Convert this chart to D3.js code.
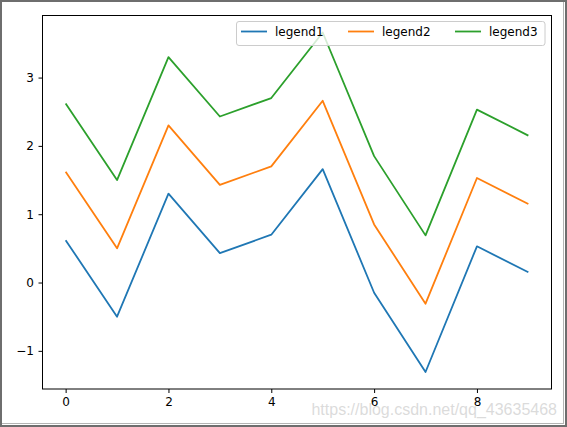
<!DOCTYPE html>
<html>
<head>
<meta charset="utf-8">
<script src="https://cdn.jsdelivr.net/npm/d3@7/dist/d3.min.js"></script>
<style>
  html, body { margin: 0; padding: 0; background: #fff; }
  svg { display: block; }
</style>
</head>
<body>
<script>
// ---- data ----
const xValues = [0, 1, 2, 3, 4, 5, 6, 7, 8, 9];
const series1 = [0.62, -0.50, 1.30, 0.43, 0.70, 1.66, -0.15, -1.31, 0.53, 0.15];
const series2 = [1.62, 0.50, 2.30, 1.43, 1.70, 2.66, 0.85, -0.31, 1.53, 1.15];
const series3 = [2.62, 1.50, 3.30, 2.43, 2.70, 3.66, 1.85, 0.69, 2.53, 2.15];
const seriesNames = ["legend1", "legend2", "legend3"];
const xTicks = [0, 2, 4, 6, 8];
const yTicks = [-1, 0, 1, 2, 3];
const yTickLabels = ["\u22121", "0", "1", "2", "3"];
const watermark = "https://blog.csdn.net/qq_43635468";

const W = 567, H = 427;
const colors = ["#1f77b4", "#ff7f0e", "#2ca02c"];
const allSeries = [series1, series2, series3];

const svg = d3.select("body").append("svg").attr("width", W).attr("height", H);

const plot = { left: 42.5, right: 551.5, top: 15.5, bottom: 389 };

// matplotlib-like 5% margins
const xmin = d3.min(xValues), xmax = d3.max(xValues);
const xpad = (xmax - xmin) * 0.05;
const allY = allSeries.flat();
const ymin = d3.min(allY), ymax = d3.max(allY);
const ypad = (ymax - ymin) * 0.05;

const x = d3.scaleLinear().domain([xmin - xpad, xmax + xpad]).range([plot.left, plot.right]);
const y = d3.scaleLinear().domain([ymin - ypad, ymax + ypad]).range([plot.bottom, plot.top]);

// lines
const line = d3.line().x((d, i) => x(xValues[i])).y(d => y(d));
const lineG = svg.append("g");
allSeries.forEach((s, k) => {
  lineG.append("path").datum(s)
    .attr("d", line)
    .attr("fill", "none")
    .attr("stroke", colors[k])
    .attr("stroke-width", 1.8)
    .attr("stroke-linejoin", "round")
    .attr("stroke-linecap", "butt");
});

// axes
const xAxis = d3.axisBottom(x).tickValues(xTicks).tickSize(4).tickSizeOuter(0).tickPadding(4.5)
  .tickFormat(d3.format("d"));
const gx = svg.append("g").attr("transform", `translate(0,${plot.bottom})`).call(xAxis);
gx.select(".domain").remove();
gx.selectAll("line").attr("stroke", "#000").attr("stroke-width", 1);
gx.selectAll("text").attr("font-family", "DejaVu Sans").attr("font-size", 12).attr("fill", "#000");

const yAxis = d3.axisLeft(y).tickValues(yTicks).tickSize(4).tickSizeOuter(0).tickPadding(4.5)
  .tickFormat((d, i) => yTickLabels[i]);
const gy = svg.append("g").attr("transform", `translate(${plot.left},0)`).call(yAxis);
gy.select(".domain").remove();
gy.selectAll("line").attr("stroke", "#000").attr("stroke-width", 1);
gy.selectAll("text").attr("font-family", "DejaVu Sans").attr("font-size", 12).attr("fill", "#000");

// spines
svg.append("rect")
  .attr("x", plot.left).attr("y", plot.top)
  .attr("width", plot.right - plot.left).attr("height", plot.bottom - plot.top)
  .attr("fill", "none").attr("stroke", "#000").attr("stroke-width", 1);

// legend
const leg = svg.append("g");
leg.append("rect")
  .attr("x", 236.5).attr("y", 21.5).attr("width", 308.5).attr("height", 24)
  .attr("rx", 2.5).attr("ry", 2.5)
  .attr("fill", "#fff").attr("fill-opacity", 0.8)
  .attr("stroke", "#cccccc").attr("stroke-width", 1);
const legX = [241, 348, 455];
seriesNames.forEach((name, k) => {
  leg.append("line")
    .attr("x1", legX[k]).attr("x2", legX[k] + 26)
    .attr("y1", 31.5).attr("y2", 31.5)
    .attr("stroke", colors[k]).attr("stroke-width", 1.8);
  leg.append("text")
    .attr("x", legX[k] + 34).attr("y", 35.6)
    .attr("font-family", "DejaVu Sans").attr("font-size", 12)
    .attr("fill", "#000")
    .text(name);
});

// watermark
svg.append("text")
  .attr("x", 557).attr("y", 415)
  .attr("text-anchor", "end")
  .attr("font-family", "Liberation Sans, Arial, sans-serif")
  .attr("font-size", 16)
  .attr("fill", "#cfcfcf").attr("fill-opacity", 0.75)
  .text(watermark);

// outer frame
svg.append("rect").attr("x", 1).attr("y", 1).attr("width", W - 2).attr("height", H - 2)
  .attr("fill", "none").attr("stroke", "#6e6e6e").attr("stroke-width", 2);
svg.append("line").attr("x1", 2).attr("x2", W - 3).attr("y1", H - 3.5).attr("y2", H - 3.5)
  .attr("stroke", "#b5b5b5").attr("stroke-width", 1);
svg.append("line").attr("x1", W - 3.5).attr("x2", W - 3.5).attr("y1", 2).attr("y2", H - 3)
  .attr("stroke", "#b5b5b5").attr("stroke-width", 1);
</script>
</body>
</html>
